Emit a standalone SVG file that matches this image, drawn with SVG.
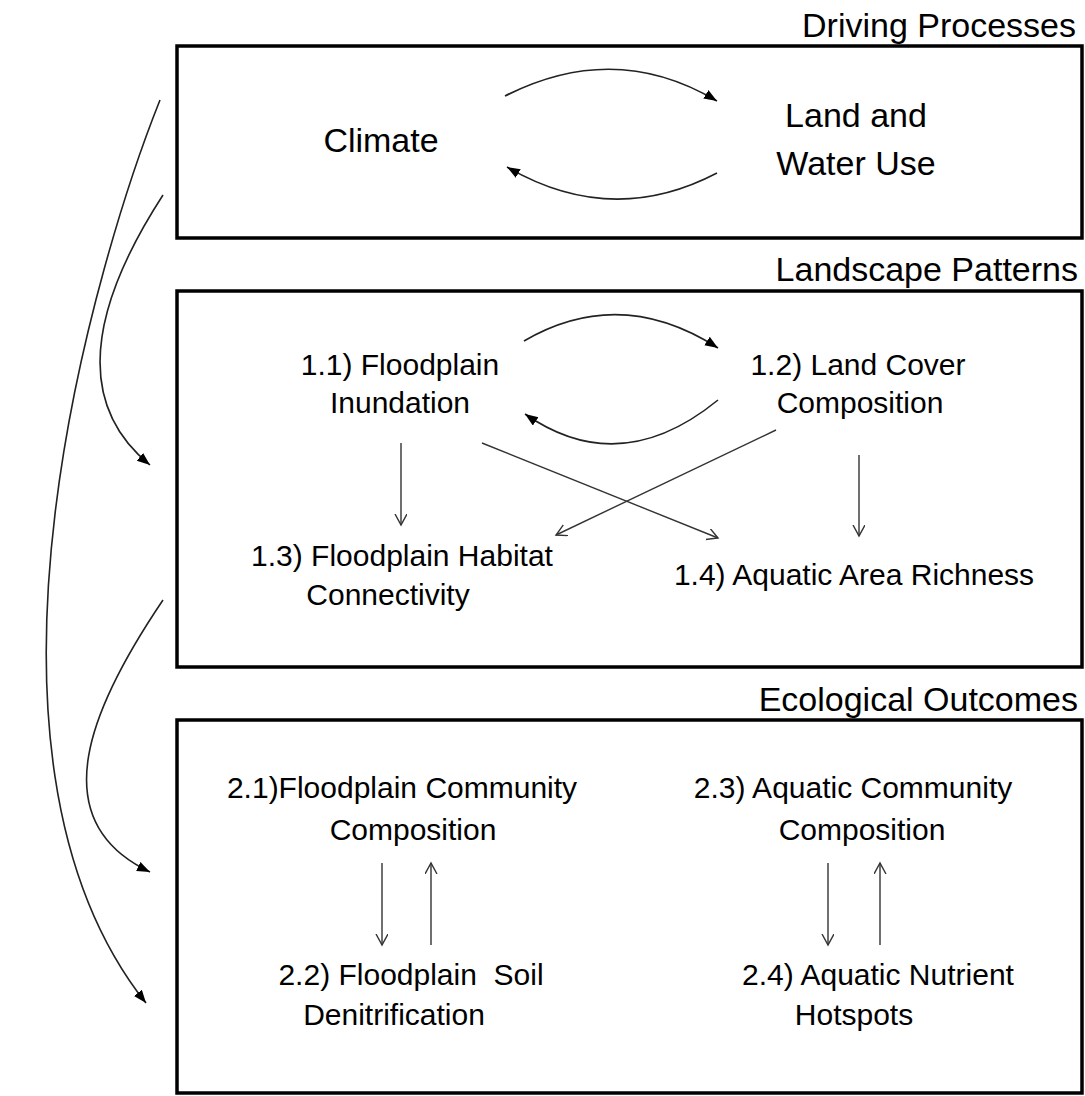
<svg xmlns="http://www.w3.org/2000/svg" width="1085" height="1096" viewBox="0 0 1085 1096">
<defs>
<style>
.box{fill:none;stroke:#000;stroke-width:3.5}
.hdr{font-family:"Liberation Sans",Arial,sans-serif;font-size:34px;fill:#000;text-anchor:end}
.big{font-family:"Liberation Sans",Arial,sans-serif;font-size:34px;fill:#000;text-anchor:middle}
.lbl{font-family:"Liberation Sans",Arial,sans-serif;font-size:30px;fill:#000;text-anchor:middle}
.cur{fill:none;stroke:#222;stroke-width:1.6;marker-end:url(#fh)}
.str{fill:none;stroke:#333;stroke-width:1.4;marker-end:url(#oh)}
</style>
<marker id="fh" markerUnits="userSpaceOnUse" markerWidth="14" markerHeight="12" refX="13" refY="5" orient="auto">
<path d="M0,0 L13,5 L0,10 z" fill="#000"/>
</marker>
<marker id="oh" markerUnits="userSpaceOnUse" markerWidth="14" markerHeight="14" refX="11" refY="6" orient="auto">
<path d="M0,0 L11,6 L0,12" fill="none" stroke="#333" stroke-width="1.4"/>
</marker>
</defs>
<rect width="1085" height="1096" fill="#fff"/>

<g id="driving-processes">
<rect class="box" x="177" y="46" width="905" height="192"/>
<text class="hdr" x="1076" y="37">Driving Processes</text>
</g>
<g id="climate"><text class="big" x="381" y="152">Climate</text></g>
<g id="land-water-use">
<text class="big" x="856" y="127">Land and</text>
<text class="big" x="856" y="175">Water Use</text>
</g>

<g id="landscape-patterns">
<rect class="box" x="177" y="291" width="905" height="376"/>
<text class="hdr" x="1078" y="281">Landscape Patterns</text>
</g>
<g id="n11">
<text class="lbl" x="400" y="375">1.1) Floodplain</text>
<text class="lbl" x="400" y="413">Inundation</text>
</g>
<g id="n12">
<text class="lbl" x="858" y="375">1.2) Land Cover</text>
<text class="lbl" x="860" y="413">Composition</text>
</g>
<g id="n13">
<text class="lbl" x="402" y="566">1.3) Floodplain Habitat</text>
<text class="lbl" x="388" y="605">Connectivity</text>
</g>
<g id="n14">
<text class="lbl" x="854" y="585">1.4) Aquatic Area Richness</text>
</g>

<g id="ecological-outcomes">
<rect class="box" x="177" y="720" width="905" height="373"/>
<text class="hdr" x="1078" y="711">Ecological Outcomes</text>
</g>
<g id="n21">
<text class="lbl" x="402" y="798">2.1)Floodplain Community</text>
<text class="lbl" x="413" y="840">Composition</text>
</g>
<g id="n23">
<text class="lbl" x="853" y="798">2.3) Aquatic Community</text>
<text class="lbl" x="862" y="840">Composition</text>
</g>
<g id="n22">
<text class="lbl" x="411" y="985" xml:space="preserve">2.2) Floodplain  Soil</text>
<text class="lbl" x="394" y="1025">Denitrification</text>
</g>
<g id="n24">
<text class="lbl" x="878" y="985">2.4) Aquatic Nutrient</text>
<text class="lbl" x="854" y="1025">Hotspots</text>
</g>

<g id="connectors">
<path class="cur" d="M505,96 Q615,40 717,101"/>
<path class="cur" d="M717,173 Q612,228 507,167"/>
<path class="cur" d="M160,100 C100,250 -55,750 146,1003"/>
<path class="cur" d="M163,195 C95,300 70,400 150,465"/>
<path class="cur" d="M163,600 C92,705 40,820 150,872"/>
<path class="cur" d="M524,341 Q620,285 718,348"/>
<path class="cur" d="M718,400 Q620,480 525,414"/>
<path class="str" d="M401,443 L401,525"/>
<path class="str" d="M859,455 L859,536"/>
<path class="str" d="M482,443 L718,538"/>
<path class="str" d="M776,430 L556,535"/>
<path class="str" d="M382,863 L382,945"/>
<path class="str" d="M431,945 L431,863"/>
<path class="str" d="M828,863 L828,945"/>
<path class="str" d="M880,945 L880,863"/>
</g>
</svg>
